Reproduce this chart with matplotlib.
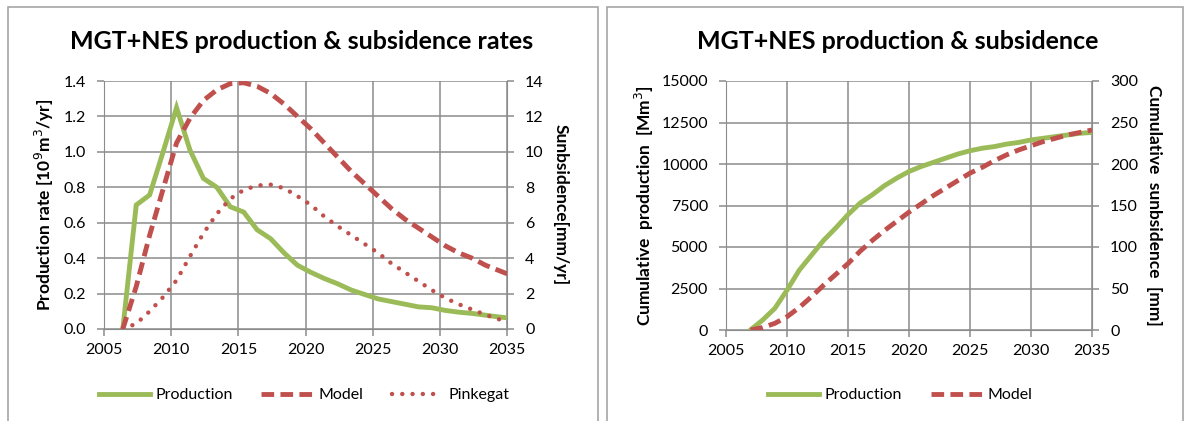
import matplotlib.pyplot as plt
from matplotlib.patches import Rectangle
from matplotlib.lines import Line2D

# Left chart: annual rates
rate_years = [2006.4 + i for i in range(30)]
production_rate = [0.0, 0.70, 0.757, 1.0, 1.25, 1.01, 0.85, 0.80, 0.69, 0.66,
                   0.56, 0.51, 0.43, 0.36, 0.32, 0.285, 0.255, 0.22, 0.195, 0.17,
                   0.155, 0.14, 0.125, 0.12, 0.105, 0.095, 0.088, 0.078, 0.068, 0.06]
model_rate = [0.0, 2.4, 5.3, 7.9, 10.5, 11.9, 12.9, 13.5, 13.85, 13.9,
              13.7, 13.3, 12.7, 12.0, 11.3, 10.5, 9.7, 8.9, 8.2, 7.5,
              6.8, 6.2, 5.7, 5.2, 4.7, 4.3, 4.0, 3.6, 3.3, 3.0]
pinkegat_rate = [0.0, 0.3, 1.0, 1.8, 2.75, 4.1, 5.4, 6.5, 7.35, 7.85,
                 8.1, 8.15, 7.95, 7.5, 7.0, 6.35, 5.8, 5.3, 4.8, 4.3,
                 3.7, 3.2, 2.7, 2.2, 1.75, 1.4, 1.1, 0.8, 0.55, 0.3]

# Right chart: cumulative values
cum_years = list(range(2007, 2036))
cum_production = [0, 600, 1300, 2400, 3600, 4500, 5400, 6150, 6950, 7650,
                  8150, 8700, 9150, 9550, 9850, 10100, 10350, 10600, 10800, 10950,
                  11050, 11200, 11300, 11450, 11550, 11650, 11750, 11850, 11900]
cum_model = [0, 3, 8, 16, 27, 40, 54, 67, 80, 95,
             108, 120, 131, 142, 152, 162, 171, 180, 189, 196,
             204, 211, 217, 222, 227, 231, 235, 238, 241]

GREEN = '#9BBB59'
RED = '#C0504D'
GRID = '#8c8c8c'
DASH = (2.6, 1.3)
DOTS = (0, (0.01, 2.3))

plt.rcParams['font.family'] = ['Lato', 'DejaVu Sans']
plt.rcParams['font.size'] = 11

fig = plt.figure(figsize=(11.84, 4.21), dpi=100)
W, H = 1184, 421


def px(x0, x1, ytop, ybot):
    return [x0 / W, 1 - ybot / H, (x1 - x0) / W, (ybot - ytop) / H]


# panel borders
for (x0, x1) in [(8, 598), (607, 1183)]:
    fig.patches.append(Rectangle((x0 / W, -0.05), (x1 - x0) / W, 1.05 - 7 / H,
                                 transform=fig.transFigure, fill=False,
                                 edgecolor='#a6a6a6', lw=1.2))


def style_axes(ax, ax2):
    ax.grid(True, color=GRID, lw=1.1)
    ax.set_axisbelow(True)
    for a in (ax, ax2):
        for s in a.spines.values():
            s.set_visible(False)
        a.tick_params(colors=GRID, labelcolor='black', length=5, width=1.1,
                      labelsize=11.5, pad=8)
    ax.tick_params(axis='x', pad=5)
    ax.spines['left'].set_visible(True)
    ax.spines['left'].set_color(GRID)
    ax.spines['bottom'].set_visible(True)
    ax.spines['bottom'].set_color(GRID)
    ax2.spines['right'].set_visible(True)
    ax2.spines['right'].set_color(GRID)
    ax.set_xlim(2005, 2035)
    ax.set_xticks(range(2005, 2036, 5))


def add_legend(handles, labels, cx):
    fig.legend(handles, labels, loc='center', bbox_to_anchor=(cx / W, 1 - 395 / H),
               ncol=len(labels), frameon=False, fontsize=11.5, handlelength=3.2,
               columnspacing=1.8, handletextpad=0.35)


# ---- left chart ----
ax = fig.add_axes(px(104, 507, 81, 329))
ax2 = ax.twinx()
style_axes(ax, ax2)
ax.plot(rate_years, production_rate, color=GREEN, lw=3.5, solid_joinstyle='miter')
ax2.plot(rate_years, model_rate, color=RED, lw=3.5, dashes=DASH)
ax2.plot(rate_years, pinkegat_rate, color=RED, lw=3.2, linestyle=DOTS,
         dash_capstyle='round')
ax.set_ylim(0, 1.4)
ax.set_yticks([i / 5 for i in range(8)])
ax.set_yticklabels(['%.1f' % (i / 5) for i in range(8)])
ax2.set_ylim(0, 14)
ax2.set_yticks(range(0, 15, 2))
ax.set_ylabel('Production rate [10$^{9}$m$^{3}$/yr]', fontweight='bold', fontsize=12.5,
              labelpad=5)
ax2.set_ylabel('Sunbsidence[mm/yr]', fontweight='bold', fontsize=12.5, rotation=270,
               labelpad=18)
ax.set_title('MGT+NES production & subsidence rates', fontweight='bold', fontsize=18,
             pad=23, x=0.49)
add_legend([Line2D([], [], color=GREEN, lw=3.5),
            Line2D([], [], color=RED, lw=3.5, dashes=DASH),
            Line2D([], [], color=RED, lw=3.2, linestyle=DOTS, dash_capstyle='round')],
           ['Production', 'Model', 'Pinkegat'], 304)

# ---- right chart ----
bx = fig.add_axes(px(726, 1092, 81, 330))
bx2 = bx.twinx()
style_axes(bx, bx2)
bx.plot(cum_years, cum_production, color=GREEN, lw=3.5)
bx2.plot(cum_years, cum_model, color=RED, lw=3.5, dashes=DASH)
bx.set_ylim(0, 15000)
bx.set_yticks(range(0, 15001, 2500))
bx2.set_ylim(0, 300)
bx2.set_yticks(range(0, 301, 50))
bx.set_ylabel('Cumulative  production  [Mm$^{3}$]', fontweight='bold', fontsize=12.5,
              labelpad=4)
bx2.set_ylabel('Cumulative  sunbsidence  [mm]', fontweight='bold', fontsize=12.5,
               rotation=270, labelpad=17)
bx.set_title('MGT+NES production & subsidence', fontweight='bold', fontsize=18,
             pad=23, x=0.47)
add_legend([Line2D([], [], color=GREEN, lw=3.5),
            Line2D([], [], color=RED, lw=3.5, dashes=DASH)],
           ['Production', 'Model'], 900)

fig.savefig('out.png', dpi=100)
